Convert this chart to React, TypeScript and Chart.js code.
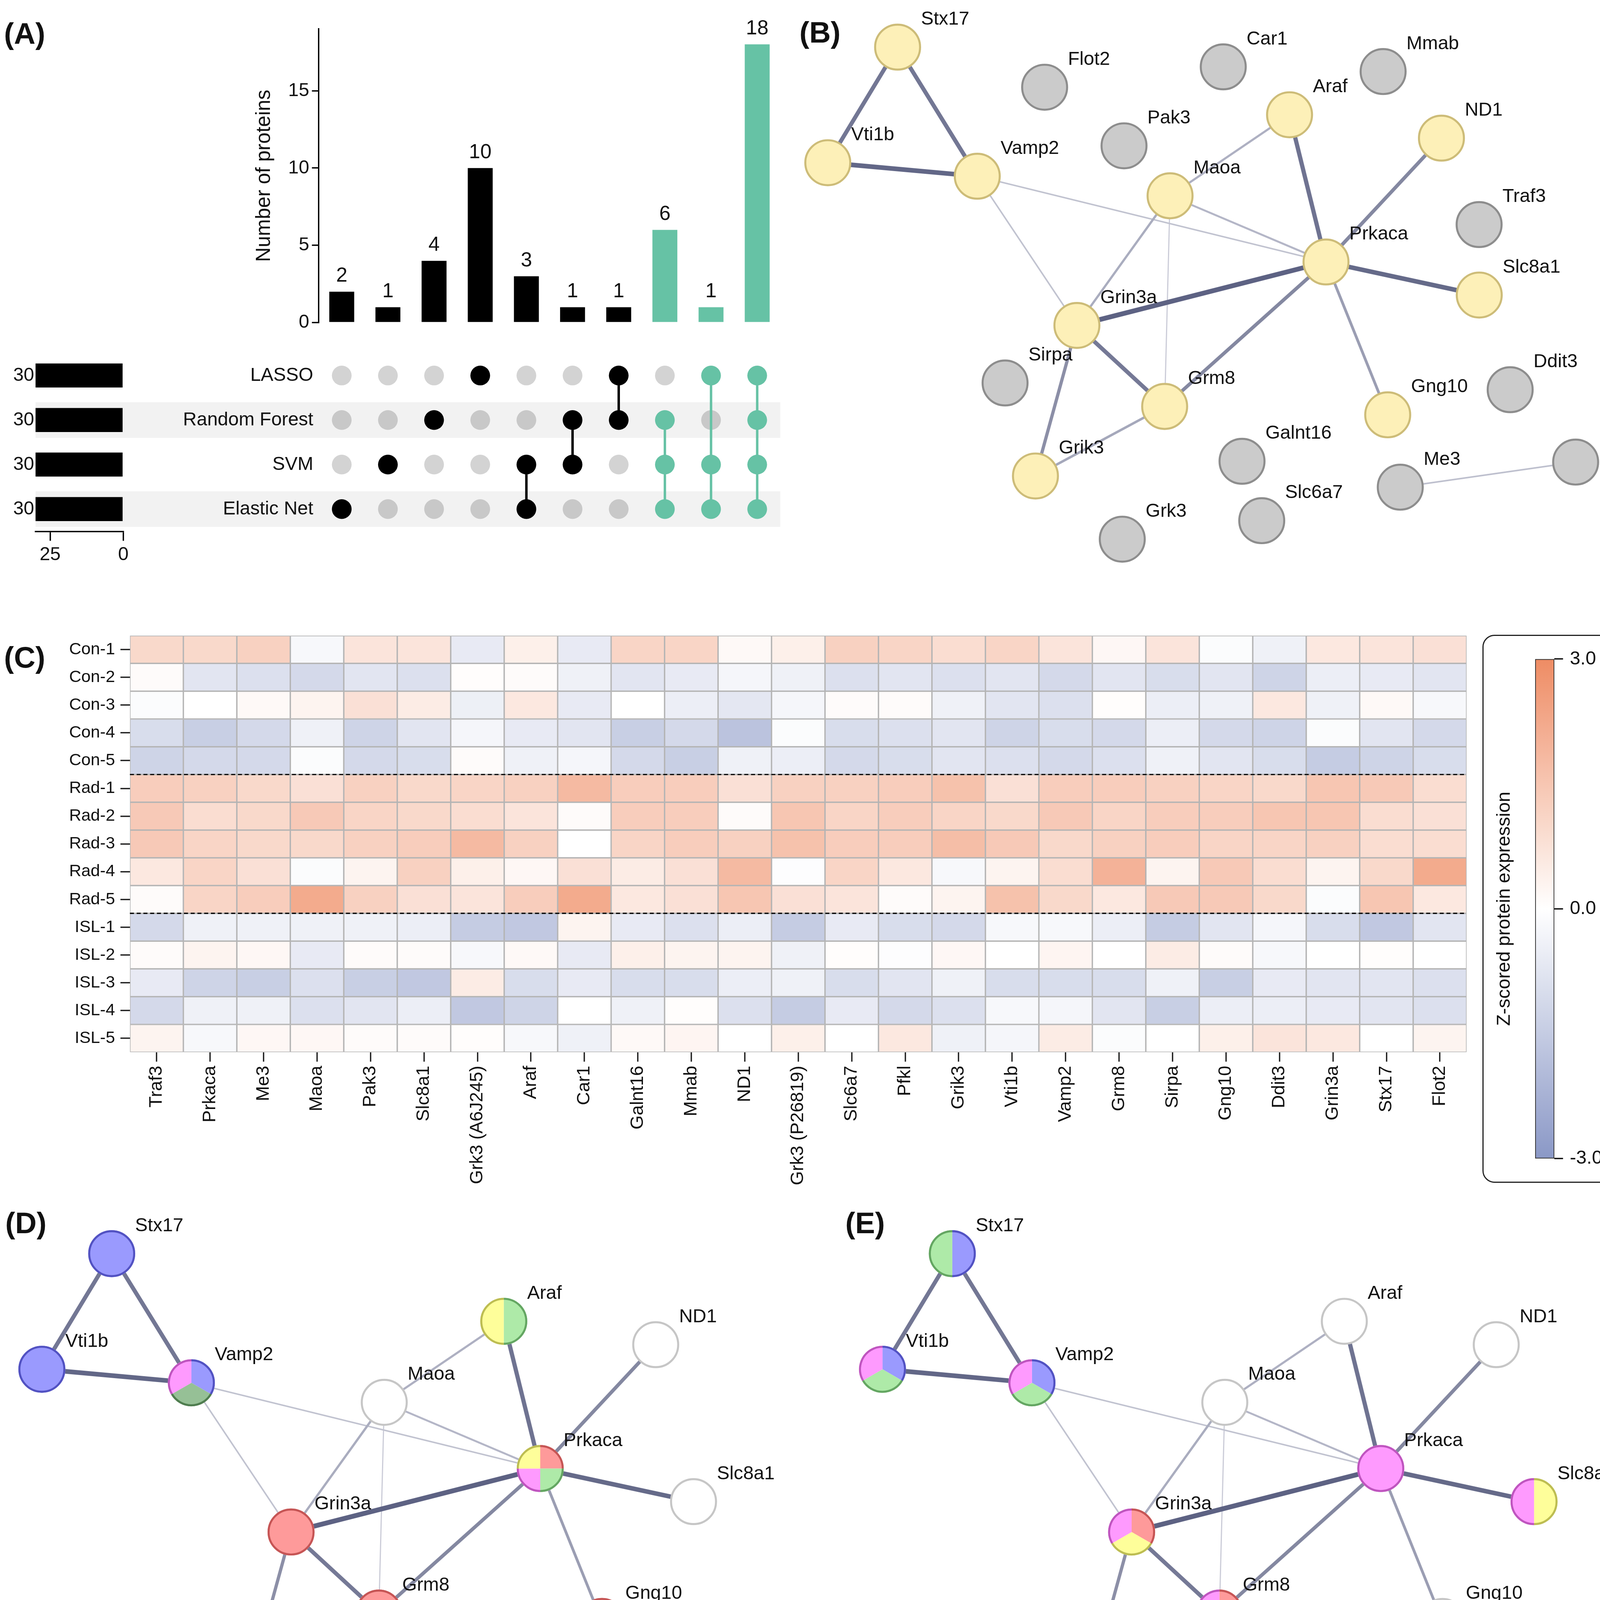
import React, { useEffect, useRef } from 'react';
import { Chart, registerables } from 'chart.js';

Chart.register(...registerables);

// ---------- layout helpers (display units -> page pixels) ----------
const K = 4193 / 1213;
const s = (v: number) => v * K;
const FONT = '"Liberation Sans", Arial, Helvetica, sans-serif';
const INK = '#111111';
const GREEN = '#66c2a5';

// ---------- Panel A: UpSet data ----------
const SET_NAMES = ['LASSO', 'Random Forest', 'SVM', 'Elastic Net'];
const SET_SIZES = [30, 30, 30, 30];
const SET_SIZE_TICKS = [0, 25];
const SET_SIZE_MAX = 30;
const INTERSECTION_SETS = [[3], [2], [1], [0], [2, 3], [1, 2], [0, 1], [1, 2, 3], [0, 2, 3], [0, 1, 2, 3]];
const INTERSECTION_COUNTS = [2, 1, 4, 10, 3, 1, 1, 6, 1, 18];
const INTERSECTION_HIGHLIGHT = [false, false, false, false, false, false, false, true, true, true];
const COUNT_TICKS = [0, 5, 10, 15];
const COUNT_MAX = 19;

// ---------- Panel C: heatmap data ----------
const HEAT_COLUMNS = ['Traf3', 'Prkaca', 'Me3', 'Maoa', 'Pak3', 'Slc8a1', 'Grk3 (A6J245)', 'Araf', 'Car1', 'Galnt16', 'Mmab', 'ND1', 'Grk3 (P26819)', 'Slc6a7', 'Pfkl', 'Grik3', 'Vti1b', 'Vamp2', 'Grm8', 'Sirpa', 'Gng10', 'Ddit3', 'Grin3a', 'Stx17', 'Flot2'];
const HEAT_ROWS = ['Con-1', 'Con-2', 'Con-3', 'Con-4', 'Con-5', 'Rad-1', 'Rad-2', 'Rad-3', 'Rad-4', 'Rad-5', 'ISL-1', 'ISL-2', 'ISL-3', 'ISL-4', 'ISL-5'];
const GROUP_SIZES = [5, 5, 5];
const CON_1 = [1.0, 1.0, 1.2, -0.2, 0.7, 0.7, -0.6, 0.4, -0.6, 1.1, 1.1, 0.15, 0.4, 1.2, 1.1, 0.9, 1.1, 0.7, 0.2, 0.7, -0.1, -0.4, 0.6, 0.7, 0.8];
const CON_2 = [0.1, -0.75, -0.9, -1.1, -0.75, -0.9, 0.05, 0.1, -0.4, -0.75, -0.6, -0.25, -0.4, -0.9, -0.75, -0.9, -0.75, -1.1, -0.75, -1.0, -0.75, -1.25, -0.5, -0.6, -0.75];
const CON_3 = [-0.1, 0.0, 0.15, 0.3, 0.8, 0.5, -0.45, 0.6, -0.6, 0.0, -0.5, -0.7, -0.25, 0.1, 0.1, -0.4, -0.75, -0.9, 0.05, -0.5, -0.4, 0.6, -0.4, 0.15, -0.2];
const CON_4 = [-1.0, -1.4, -1.1, -0.4, -1.25, -0.75, -0.25, -0.6, -0.75, -1.4, -1.1, -1.75, -0.1, -1.0, -0.9, -0.75, -1.25, -1.0, -1.1, -0.5, -1.1, -1.25, -0.1, -0.75, -1.1];
const CON_5 = [-1.25, -1.1, -1.1, -0.1, -1.1, -1.0, 0.1, -0.4, -0.25, -1.1, -1.4, -0.4, -0.5, -1.1, -1.0, -0.75, -0.9, -1.1, -0.9, -0.4, -0.75, -1.0, -1.5, -1.25, -1.0];
const RAD_1 = [1.3, 1.2, 1.0, 0.8, 1.2, 1.0, 1.1, 1.2, 1.8, 1.3, 1.3, 0.8, 1.2, 1.2, 1.3, 1.6, 0.8, 1.3, 1.3, 1.2, 1.1, 1.0, 1.5, 1.4, 0.9];
const RAD_2 = [1.4, 0.9, 1.0, 1.4, 1.1, 1.0, 0.9, 0.7, 0.1, 1.3, 1.3, 0.1, 1.5, 1.1, 1.3, 1.1, 1.0, 1.4, 1.1, 1.3, 1.3, 1.5, 1.5, 0.9, 0.8];
const RAD_3 = [1.4, 1.1, 1.0, 1.0, 1.2, 1.3, 1.8, 1.2, 0.0, 1.1, 1.3, 1.2, 1.6, 1.3, 1.3, 1.7, 1.4, 1.0, 1.2, 1.3, 1.1, 1.1, 1.2, 0.9, 0.9];
const RAD_4 = [0.6, 1.1, 0.8, -0.1, 0.3, 1.2, 0.4, 0.2, 0.8, 0.5, 0.8, 1.8, -0.05, 1.1, 0.6, -0.2, 0.3, 0.9, 2.0, 0.3, 1.4, 0.9, 0.3, 1.0, 2.2];
const RAD_5 = [0.1, 1.1, 1.3, 2.2, 1.2, 0.8, 0.7, 1.3, 2.2, 0.6, 0.8, 1.5, 0.8, 0.7, 0.1, 0.3, 1.6, 1.0, 0.6, 1.4, 1.4, 1.0, -0.1, 1.5, 0.6];
const ISL_1 = [-1.1, -0.4, -0.4, -0.4, -0.4, -0.5, -1.5, -1.6, 0.3, -0.6, -0.9, -0.5, -1.5, -0.6, -1.0, -1.1, -0.2, -0.2, -0.5, -1.5, -0.75, -0.25, -1.0, -1.6, -0.75];
const ISL_2 = [0.1, 0.3, 0.2, -0.6, 0.1, 0.1, -0.2, 0.15, -0.6, 0.4, 0.3, 0.3, -0.4, 0.05, -0.05, 0.2, 0.0, 0.25, 0.0, 0.5, 0.1, -0.2, 0.0, 0.05, 0.0];
const ISL_3 = [-0.6, -1.25, -1.4, -0.9, -1.4, -1.6, 0.5, -1.0, -0.6, -1.0, -1.0, -0.5, -0.4, -1.0, -0.75, -0.4, -1.0, -1.0, -1.0, -0.4, -1.4, -0.6, -0.75, -0.75, -0.9];
const ISL_4 = [-1.1, -0.4, -0.4, -0.9, -0.75, -0.5, -1.6, -1.25, 0.0, -0.4, 0.05, -0.9, -1.5, -0.6, -1.1, -0.9, -0.2, -0.25, -0.75, -1.4, -0.5, -0.5, -0.6, -0.75, -0.9];
const ISL_5 = [0.3, -0.2, 0.2, 0.2, 0.1, 0.1, 0.05, -0.2, -0.4, 0.15, 0.25, 0.0, 0.4, 0.0, 0.6, -0.4, -0.25, 0.5, -0.1, 0.0, 0.4, 0.7, 0.6, 0.0, 0.3];
const HEAT_VALUES = [CON_1, CON_2, CON_3, CON_4, CON_5, RAD_1, RAD_2, RAD_3, RAD_4, RAD_5, ISL_1, ISL_2, ISL_3, ISL_4, ISL_5];
const Z_TICKS = [-3, 0, 3];
const Z_NEG = [138, 152, 198];
const Z_POS = [238, 140, 100];

// ---------- Networks (B, D, E) ----------
const CORE_NODES = ['Stx17', 'Vti1b', 'Vamp2', 'Araf', 'ND1', 'Maoa', 'Prkaca', 'Slc8a1', 'Grin3a', 'Grm8', 'Gng10', 'Grik3'];
const CORE_X = [82.7, 31, 141.7, 373, 485.5, 284.5, 400, 513.5, 215.5, 280.5, 445.7, 184.8];
const CORE_Y = [48.4, 134, 144, 98.5, 115.8, 158.5, 207.5, 232, 254.5, 314.5, 320.7, 366];
const EXTRA_NODES = ['Flot2', 'Car1', 'Mmab', 'Pak3', 'Traf3', 'Sirpa', 'Ddit3', 'Galnt16', 'Me3', 'Pfkl', 'Slc6a7', 'Grk3'];
const EXTRA_X = [191.6, 323.9, 442.3, 250.4, 513.4, 162.3, 536.4, 337.8, 455, 584.9, 352.4, 249.1];
const EXTRA_Y = [78.1, 63, 66.5, 121.5, 179.8, 297.1, 302.1, 355.1, 374.3, 355.7, 399.1, 412.8];
const EDGE_FROM = ['Prkaca', 'Vti1b', 'Prkaca', 'Stx17', 'Stx17', 'Araf', 'Grin3a', 'ND1', 'Prkaca', 'Grin3a', 'Prkaca', 'Grm8', 'Maoa', 'Maoa', 'Maoa', 'Vamp2', 'Vamp2', 'Maoa', 'Me3'];
const EDGE_TO = ['Grin3a', 'Vamp2', 'Slc8a1', 'Vti1b', 'Vamp2', 'Prkaca', 'Grm8', 'Prkaca', 'Grm8', 'Grik3', 'Gng10', 'Grik3', 'Araf', 'Grin3a', 'Prkaca', 'Prkaca', 'Grin3a', 'Grm8', 'Pfkl'];
const EDGE_SCORE = [0.99, 0.95, 0.93, 0.82, 0.82, 0.85, 0.8, 0.68, 0.68, 0.62, 0.5, 0.42, 0.35, 0.38, 0.3, 0.2, 0.2, 0.12, 0.22];

const KEGG_TERMS = ['Glutamatergic synapse', 'SNARE interactions in vesicular transport', 'Insulin signaling pathway', 'Synaptic vesicle cycle', 'Insulin secretion', 'MAPK signaling pathway'];
const KEGG_FILL = ['#fe9a9a', '#9a9afe', '#aeeaa8', '#96c096', '#fe9afe', '#fefe9a'];
const KEGG_STROKE = ['#c65555', '#5252c2', '#64a662', '#4f7d4f', '#bf55bf', '#bdbd52'];
const KEGG_NODE_TERMS = [[1], [1], [1, 3, 4], [2, 5], [], [], [0, 2, 4, 5], [], [0], [0], [0], [0]];

const GO_MF_TERMS = ['Glutamatergic receptor activity', 'SNAP receptor activity'];
const GO_CC_TERMS = ['SNARE complex', 'Synaptic membrane', 'Synapse'];
const GO_FILL = ['#fe9a9a', '#9a9afe', '#aeeaa8', '#fe9afe', '#fefe9a'];
const GO_STROKE = ['#c65555', '#5252c2', '#64a662', '#bf55bf', '#bdbd52'];
const GO_NODE_TERMS = [[1, 2], [1, 2, 3], [1, 2, 3], [], [], [], [3], [4, 3], [0, 4, 3], [0, 4, 3], [], [0, 4, 3]];

const NODE_R = 17.4;

// ---------- helpers ----------
const font = (size: number, weight: any = 'normal') => ({ family: FONT, size: s(size), weight });
const baseOptions = () => ({
  animation: false as const,
  responsive: false,
  maintainAspectRatio: false,
  devicePixelRatio: 1,
  events: [] as any[],
  plugins: { legend: { display: false }, tooltip: { enabled: false } },
});
const lerp = (a: number[], b: number[], t: number) => a.map((v, i) => Math.round(v + (b[i] - v) * t));
const zColor = (v: number) => {
  const t = Math.max(-1, Math.min(1, v / Z_TICKS[Z_TICKS.length - 1]));
  const c = t >= 0 ? lerp([255, 255, 255], Z_POS, t) : lerp([255, 255, 255], Z_NEG, -t);
  return `rgb(${c[0]},${c[1]},${c[2]})`;
};
const edgeColor = (sc: number) => {
  const c = lerp([218, 219, 228], [92, 97, 130], sc);
  return `rgb(${c[0]},${c[1]},${c[2]})`;
};

// ---------- plugins ----------
const barValueLabels = {
  id: 'barValueLabels',
  afterDatasetsDraw(chart: any) {
    const ctx = chart.ctx;
    const meta = chart.getDatasetMeta(0);
    ctx.save();
    ctx.font = `${s(15)}px ${FONT}`;
    ctx.fillStyle = INK;
    ctx.textAlign = 'center';
    ctx.textBaseline = 'bottom';
    meta.data.forEach((el: any, i: number) => ctx.fillText(String(chart.data.datasets[0].data[i]), el.x, el.y - s(4)));
    ctx.restore();
  },
};

const matrixStripes = {
  id: 'matrixStripes',
  beforeDraw(chart: any) {
    const { ctx, chartArea, scales } = chart;
    const y = scales.y;
    const step = Math.abs(y.getPixelForValue(1) - y.getPixelForValue(0));
    const h = step * 0.8;
    ctx.save();
    ctx.fillStyle = '#f2f2f2';
    SET_NAMES.forEach((_, i) => {
      if (i % 2 === 1) {
        const py = y.getPixelForValue(i);
        ctx.fillRect(s(26.3), py - h / 2, chartArea.right - s(26.3), h);
      }
    });
    ctx.restore();
  },
};

const setSizeLabels = {
  id: 'setSizeLabels',
  afterDatasetsDraw(chart: any) {
    const ctx = chart.ctx;
    const meta = chart.getDatasetMeta(0);
    ctx.save();
    ctx.font = `${s(14)}px ${FONT}`;
    ctx.fillStyle = INK;
    ctx.textAlign = 'right';
    ctx.textBaseline = 'middle';
    meta.data.forEach((el: any, i: number) => ctx.fillText(String(SET_SIZES[i]), Math.min(el.x, el.base) - s(1), el.y));
    ctx.restore();
  },
};

const groupDividers = {
  id: 'groupDividers',
  afterDatasetsDraw(chart: any) {
    const { ctx, chartArea, scales } = chart;
    const y = scales.y;
    ctx.save();
    ctx.strokeStyle = '#000';
    ctx.lineWidth = s(0.9);
    ctx.setLineDash([s(3), s(2)]);
    let acc = 0;
    GROUP_SIZES.slice(0, -1).forEach((n) => {
      acc += n;
      const py = y.getPixelForValue(acc - 0.5);
      ctx.beginPath();
      ctx.moveTo(chartArea.left, py);
      ctx.lineTo(chartArea.right, py);
      ctx.stroke();
    });
    ctx.restore();
  },
};

function networkPlugin(names: string[], slices: number[][] | null, sliceFill: string[], sliceStroke: string[]) {
  return {
    id: 'network',
    beforeDatasetsDraw(chart: any) {
      const pts = chart.getDatasetMeta(0).data;
      const ctx = chart.ctx;
      ctx.save();
      ctx.lineCap = 'butt';
      const order = EDGE_SCORE.map((_, i) => i).sort((a, b) => EDGE_SCORE[a] - EDGE_SCORE[b]);
      order.forEach((i) => {
        const ia = names.indexOf(EDGE_FROM[i]);
        const ib = names.indexOf(EDGE_TO[i]);
        if (ia < 0 || ib < 0) return;
        const sc = EDGE_SCORE[i];
        ctx.strokeStyle = edgeColor(sc);
        ctx.lineWidth = s(0.5 + 3.1 * sc);
        ctx.beginPath();
        ctx.moveTo(pts[ia].x, pts[ia].y);
        ctx.lineTo(pts[ib].x, pts[ib].y);
        ctx.stroke();
      });
      ctx.restore();
    },
    afterDatasetsDraw(chart: any) {
      const pts = chart.getDatasetMeta(0).data;
      const ctx = chart.ctx;
      const r = s(NODE_R);
      const lw = s(1.5);
      ctx.save();
      if (slices) {
        slices.forEach((terms, i) => {
          if (!terms || !terms.length) return;
          const { x, y } = pts[i];
          const n = terms.length;
          terms.forEach((t, k) => {
            const a0 = -Math.PI / 2 + (2 * Math.PI * k) / n;
            const a1 = a0 + (2 * Math.PI) / n;
            ctx.beginPath();
            ctx.moveTo(x, y);
            ctx.arc(x, y, r, a0, a1);
            ctx.closePath();
            ctx.fillStyle = sliceFill[t];
            ctx.fill();
          });
          terms.forEach((t, k) => {
            const a0 = -Math.PI / 2 + (2 * Math.PI * k) / n;
            const a1 = a0 + (2 * Math.PI) / n;
            ctx.beginPath();
            ctx.arc(x, y, r - lw / 2, a0, a1);
            ctx.strokeStyle = sliceStroke[t];
            ctx.lineWidth = lw;
            ctx.stroke();
          });
        });
      }
      ctx.font = `${s(14)}px ${FONT}`;
      ctx.fillStyle = INK;
      ctx.textAlign = 'left';
      ctx.textBaseline = 'middle';
      names.forEach((nm, i) => ctx.fillText(nm, pts[i].x + s(17.3), pts[i].y - s(20.5)));
      ctx.restore();
    },
  };
}

// ---------- chart configs ----------
function topBarsConfig(): any {
  return {
    type: 'bar',
    data: {
      labels: INTERSECTION_COUNTS.map((_, i) => `I${i + 1}`),
      datasets: [{
        data: INTERSECTION_COUNTS,
        backgroundColor: INTERSECTION_HIGHLIGHT.map((h) => (h ? GREEN : '#000000')),
        barPercentage: 0.54,
        categoryPercentage: 1,
      }],
    },
    options: {
      ...baseOptions(),
      layout: { autoPadding: false, padding: { left: s(180), top: s(21.4), right: s(12), bottom: s(19.1) } },
      scales: {
        x: { display: false },
        y: {
          min: 0,
          max: COUNT_MAX,
          afterBuildTicks: (sc: any) => { sc.ticks = COUNT_TICKS.map((v) => ({ value: v })); },
          afterFit: (sc: any) => { sc.width = s(56); },
          border: { display: true, color: '#000', width: s(1) },
          grid: { display: true, drawOnChartArea: false, drawTicks: true, tickLength: s(5), color: '#000', lineWidth: s(1) },
          ticks: { font: font(14), color: INK, padding: s(2) },
          title: { display: true, text: 'Number of proteins', font: font(15), color: INK, padding: { top: s(6.7), bottom: 0 } },
        },
      },
    },
    plugins: [barValueLabels],
  };
}

function matrixConfig(): any {
  const grey: any[] = [];
  const greyColors: string[] = [];
  INTERSECTION_SETS.forEach((members, c) => SET_NAMES.forEach((_, r) => {
    if (!members.includes(r)) {
      grey.push({ x: c, y: r });
      greyColors.push(r % 2 ? '#c8c8c8' : '#d3d3d3');
    }
  }));
  const active = INTERSECTION_SETS.map((members, c) => {
    const col = INTERSECTION_HIGHLIGHT[c] ? GREEN : '#000000';
    return {
      data: members.map((r) => ({ x: c, y: r })),
      showLine: true,
      borderColor: col,
      borderWidth: s(1.8),
      pointRadius: s(7.3),
      pointBackgroundColor: col,
      pointBorderWidth: 0,
      order: 0,
      clip: false,
    };
  });
  return {
    type: 'scatter',
    data: {
      datasets: [...active, { data: grey, pointRadius: s(7.3), pointBackgroundColor: greyColors, pointBorderWidth: 0, order: 1, clip: false }],
    },
    options: {
      ...baseOptions(),
      layout: { autoPadding: false, padding: { left: 0, top: s(21.5), right: s(12), bottom: s(46.5) } },
      scales: {
        x: { type: 'linear', min: -0.5, max: INTERSECTION_COUNTS.length - 0.5, display: false },
        y: {
          type: 'linear',
          min: -0.5,
          max: SET_NAMES.length - 0.5,
          reverse: true,
          afterBuildTicks: (sc: any) => { sc.ticks = SET_NAMES.map((_, i) => ({ value: i })); },
          afterFit: (sc: any) => { sc.width = s(236); },
          ticks: { callback: (v: any) => SET_NAMES[v], font: font(14), color: INK, padding: s(4), autoSkip: false },
          grid: { display: false, drawTicks: false },
          border: { display: false },
        },
      },
    },
    plugins: [matrixStripes],
  };
}

function setSizeConfig(): any {
  return {
    type: 'bar',
    data: {
      labels: SET_NAMES,
      datasets: [{ data: SET_SIZES, backgroundColor: '#000000', barPercentage: 0.54, categoryPercentage: 1 }],
    },
    options: {
      ...baseOptions(),
      indexAxis: 'y',
      layout: { autoPadding: false, padding: { left: s(26.3), top: s(21.5), right: s(8.8), bottom: 0 } },
      scales: {
        y: { display: false },
        x: {
          type: 'linear',
          min: 0,
          max: SET_SIZE_MAX,
          reverse: true,
          afterBuildTicks: (sc: any) => { sc.ticks = SET_SIZE_TICKS.map((v) => ({ value: v })); },
          afterFit: (sc: any) => { sc.height = s(46.5); },
          border: { display: true, color: '#000', width: s(1) },
          grid: { display: true, drawOnChartArea: false, drawTicks: true, tickLength: s(7), color: '#000', lineWidth: s(1) },
          ticks: { font: font(14), color: INK, padding: s(2), maxRotation: 0 },
        },
      },
    },
    plugins: [setSizeLabels],
  };
}

function heatmapConfig(): any {
  return {
    type: 'bar',
    data: {
      labels: HEAT_COLUMNS,
      datasets: HEAT_VALUES.map((row, r) => ({
        data: row.map(() => [r - 0.5, r + 0.5]),
        backgroundColor: row.map(zColor),
        borderColor: '#b4b4b4',
        borderWidth: s(0.6),
        borderSkipped: false,
        barPercentage: 1,
        categoryPercentage: 1,
        grouped: false,
      })),
    },
    options: {
      ...baseOptions(),
      layout: { autoPadding: false, padding: { left: 0, top: s(15.7), right: s(8.8), bottom: 0 } },
      scales: {
        x: {
          afterFit: (sc: any) => { sc.height = s(105.7); },
          grid: { display: true, offset: false, drawOnChartArea: false, drawTicks: true, tickLength: s(7), color: '#222', lineWidth: s(1) },
          border: { display: false },
          ticks: { autoSkip: false, minRotation: 90, maxRotation: 90, font: font(13.5), color: INK, padding: s(3) },
        },
        y: {
          type: 'linear',
          min: -0.5,
          max: HEAT_ROWS.length - 0.5,
          reverse: true,
          afterBuildTicks: (sc: any) => { sc.ticks = HEAT_ROWS.map((_, i) => ({ value: i })); },
          afterFit: (sc: any) => { sc.width = s(96.2); },
          grid: { display: true, drawOnChartArea: false, drawTicks: true, tickLength: s(7), color: '#222', lineWidth: s(1) },
          border: { display: false },
          ticks: { callback: (v: any) => HEAT_ROWS[v], autoSkip: false, font: font(12.5), color: INK, padding: s(4) },
        },
      },
    },
    plugins: [groupDividers],
  };
}

function colorbarConfig(): any {
  const zmin = Z_TICKS[0];
  const zmax = Z_TICKS[Z_TICKS.length - 1];
  return {
    type: 'bar',
    data: {
      labels: ['z'],
      datasets: [{
        data: [[zmin, zmax]],
        yAxisID: 'y',
        barPercentage: 1,
        categoryPercentage: 1,
        borderWidth: s(0.7),
        borderColor: '#333333',
        borderSkipped: false,
        backgroundColor: (c: any) => {
          const ch = c.chart;
          const area = ch.chartArea;
          if (!area) return '#ffffff';
          const g = ch.ctx.createLinearGradient(0, area.bottom, 0, area.top);
          for (let i = 0; i <= 12; i++) {
            const v = zmin + ((zmax - zmin) * i) / 12;
            g.addColorStop(i / 12, zColor(v));
          }
          return g;
        },
      }],
    },
    options: {
      ...baseOptions(),
      layout: { autoPadding: false, padding: { left: 0, top: s(18), right: 0, bottom: s(18) } },
      scales: {
        x: { display: false },
        y: {
          type: 'linear',
          position: 'right',
          min: zmin,
          max: zmax,
          afterBuildTicks: (sc: any) => { sc.ticks = Z_TICKS.map((v) => ({ value: v })); },
          afterFit: (sc: any) => { sc.width = s(49.1); },
          ticks: { callback: (v: any) => Number(v).toFixed(1), font: font(14), color: INK, padding: s(5) },
          grid: { display: true, drawOnChartArea: false, drawTicks: true, tickLength: s(6.4), color: '#111', lineWidth: s(1) },
          border: { display: false },
        },
        yl: {
          type: 'linear',
          axis: 'y',
          position: 'left',
          min: zmin,
          max: zmax,
          afterFit: (sc: any) => { sc.width = s(39); },
          ticks: { display: false },
          grid: { display: false, drawTicks: false },
          border: { display: false },
          title: { display: true, text: 'Z-scored protein expression', font: font(14), color: INK, padding: { top: s(7.9), bottom: 0 } },
        },
      },
    },
  };
}

function networkConfig(names: string[], xs: number[], ys: number[], fills: string[], strokes: string[], slices: number[][] | null, sFill: string[], sStroke: string[], xr: number[], yr: number[]): any {
  return {
    type: 'scatter',
    data: {
      datasets: [{
        data: names.map((_, i) => ({ x: xs[i], y: ys[i] })),
        pointRadius: s(NODE_R - 0.75),
        pointBackgroundColor: fills,
        pointBorderColor: strokes,
        pointBorderWidth: s(1.5),
        clip: false,
      }],
    },
    options: {
      ...baseOptions(),
      layout: { autoPadding: false, padding: 0 },
      scales: {
        x: { type: 'linear', min: xr[0], max: xr[1], display: false },
        y: { type: 'linear', min: yr[0], max: yr[1], reverse: true, display: false },
      },
    },
    plugins: [networkPlugin(names, slices, sFill, sStroke)],
  };
}

const networkBConfig = () => {
  const names = [...CORE_NODES, ...EXTRA_NODES];
  const fills = [...CORE_NODES.map(() => '#fdf0b8'), ...EXTRA_NODES.map(() => '#cbcbcb')];
  const strokes = [...CORE_NODES.map(() => '#cdbc78'), ...EXTRA_NODES.map(() => '#8d8d8d')];
  return networkConfig(names, [...CORE_X, ...EXTRA_X], [...CORE_Y, ...EXTRA_Y], fills, strokes, null, [], [], [0, 631], [13.5, 453.5]);
};
const networkDConfig = () => networkConfig(CORE_NODES, CORE_X, CORE_Y, CORE_NODES.map(() => '#ffffff'), CORE_NODES.map(() => '#c6c6c6'), KEGG_NODE_TERMS, KEGG_FILL, KEGG_STROKE, [0, 612], [0, 400]);
const networkEConfig = () => networkConfig(CORE_NODES, CORE_X, CORE_Y, CORE_NODES.map(() => '#ffffff'), CORE_NODES.map(() => '#c6c6c6'), GO_NODE_TERMS, GO_FILL, GO_STROKE, [0, 590.4], [0, 400]);

// ---------- components ----------
function ChartBox({ x, y, w, h, config }: any) {
  const ref = useRef<HTMLCanvasElement | null>(null);
  useEffect(() => {
    const chart = new Chart(ref.current as HTMLCanvasElement, config());
    return () => chart.destroy();
  }, []);
  const W = Math.round(s(w));
  const H = Math.round(s(h));
  return (
    <canvas
      ref={ref}
      width={W}
      height={H}
      style={{ position: 'absolute', left: Math.round(s(x)), top: Math.round(s(y)), width: W, height: H }}
    />
  );
}

function Txt({ x, y, size, text, bold = false }: any) {
  return (
    <div
      style={{
        position: 'absolute',
        left: s(x),
        top: s(y),
        transform: 'translateY(-50%)',
        fontFamily: FONT,
        fontSize: s(size),
        fontWeight: bold ? 700 : 400,
        color: INK,
        whiteSpace: 'nowrap',
        lineHeight: 1,
      }}
    >
      {text}
    </div>
  );
}

function Swatch({ x, y, fill, stroke }: any) {
  return (
    <div
      style={{
        position: 'absolute',
        left: s(x),
        top: s(y - 8.75),
        width: s(56.4),
        height: s(17.5),
        boxSizing: 'border-box',
        background: fill,
        borderTop: `${s(2.4)}px solid ${stroke}`,
        borderBottom: `${s(2.4)}px solid ${stroke}`,
        borderLeft: `${s(0.8)}px solid ${stroke}`,
        borderRight: `${s(0.8)}px solid ${stroke}`,
      }}
    />
  );
}

function Box({ x, y, w, h }: any) {
  return (
    <div
      style={{
        position: 'absolute',
        left: s(x),
        top: s(y),
        width: s(w),
        height: s(h),
        boxSizing: 'border-box',
        border: `${s(0.9)}px solid #222`,
        borderRadius: s(9),
      }}
    />
  );
}

const LEGEND_ROWS = [1344.3, 1383, 1421.7, 1460.4, 1499.1, 1537.8];

export default function App() {
  return (
    <div style={{ position: 'absolute', left: 0, top: 0, width: 4193, height: 5408, background: '#ffffff', overflow: 'hidden' }}>
      <ChartBox x={0} y={0} w={590} h={258} config={topBarsConfig} />
      <ChartBox x={0} y={240} w={590} h={200} config={matrixConfig} />
      <ChartBox x={0} y={240} w={100} h={200} config={setSizeConfig} />
      <ChartBox x={582} y={0} w={631} h={440} config={networkBConfig} />
      <ChartBox x={0} y={455} w={1095} h={430} config={heatmapConfig} />
      <Box x={1098} y={470} w={102.5} h={406} />
      <ChartBox x={1098} y={470} w={102.5} h={406} config={colorbarConfig} />
      <ChartBox x={0} y={880} w={612} h={400} config={networkDConfig} />
      <ChartBox x={622.6} y={880} w={590.4} h={400} config={networkEConfig} />

      <Box x={9.3} y={1286} w={566.7} h={271.5} />
      <Txt x={25.5} y={1306.7} size={14.5} text="KEGG Pathways" />
      {KEGG_TERMS.map((t, i) => (
        <React.Fragment key={t}>
          <Swatch x={120} y={LEGEND_ROWS[i]} fill={KEGG_FILL[i]} stroke={KEGG_STROKE[i]} />
          <Txt x={191} y={LEGEND_ROWS[i]} size={14.5} text={t} />
        </React.Fragment>
      ))}

      <Box x={632} y={1286} w={567.5} h={271.5} />
      <Txt x={648} y={1306.7} size={14.5} text="Molecular Function (Gene Ontology)" />
      {GO_MF_TERMS.map((t, i) => (
        <React.Fragment key={t}>
          <Swatch x={741} y={LEGEND_ROWS[i]} fill={GO_FILL[i]} stroke={GO_STROKE[i]} />
          <Txt x={813.7} y={LEGEND_ROWS[i]} size={14.5} text={t} />
        </React.Fragment>
      ))}
      <Txt x={648} y={LEGEND_ROWS[2]} size={14.5} text="Cellular Component (Gene ontology)" />
      {GO_CC_TERMS.map((t, i) => (
        <React.Fragment key={t}>
          <Swatch x={741} y={LEGEND_ROWS[3 + i]} fill={GO_FILL[2 + i]} stroke={GO_STROKE[2 + i]} />
          <Txt x={813.7} y={LEGEND_ROWS[3 + i]} size={14.5} text={t} />
        </React.Fragment>
      ))}

      <Txt x={3} y={25} size={22} text="(A)" bold />
      <Txt x={592} y={24} size={22} text="(B)" bold />
      <Txt x={3} y={487} size={22} text="(C)" bold />
      <Txt x={3.9} y={905.7} size={22} text="(D)" bold />
      <Txt x={626} y={905.7} size={22} text="(E)" bold />
    </div>
  );
}
